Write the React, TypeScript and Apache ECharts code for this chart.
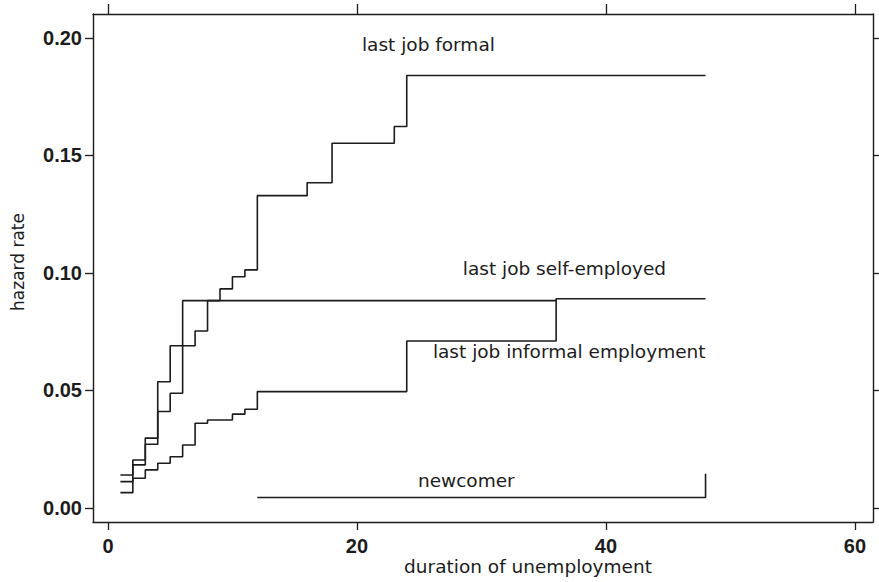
import React, { useEffect, useRef } from "react";
import * as echarts from "echarts";

// ---- data ----
const xTickValues = [0, 20, 40, 60];
const yTickValues = [0, 0.05, 0.1, 0.15, 0.2];

const formalX = [1, 2, 3, 4, 5, 7, 8, 9, 10, 11, 12, 16, 18, 23, 24, 48];
const formalY = [0.0065, 0.0204, 0.0297, 0.0537, 0.069, 0.0753, 0.0882, 0.0932, 0.0984, 0.1013, 0.1329, 0.1384, 0.1552, 0.1623, 0.184, 0.184];

const selfX = [1, 2, 3, 4, 5, 6, 36];
const selfY = [0.014, 0.0183, 0.0271, 0.041, 0.0488, 0.0882, 0.0882];

const informalX = [1, 2, 3, 4, 5, 6, 7, 8, 10, 11, 12, 24, 36, 48];
const informalY = [0.0112, 0.0126, 0.0162, 0.019, 0.0218, 0.0268, 0.036, 0.0374, 0.0399, 0.042, 0.0495, 0.071, 0.089, 0.089];

const newcomerX = [12, 48];
const newcomerY = [0.0044, 0.0145];

const labelTexts = ["last job formal", "last job self-employed", "last job informal employment", "newcomer"];
const labelX = [20.4, 28.5, 26.1, 24.9];
const labelY = [0.1974, 0.1017, 0.0664, 0.0115];

const xAxisTitle = "duration of unemployment";
const yAxisTitle = "hazard rate";

const INK = "#1c1c1c";
const LABEL_FONT = "'DejaVu Sans', sans-serif";
const TICK_FONT = "'Liberation Sans', Arial, sans-serif";

const zip = (xs: number[], ys: number[]) => xs.map((x, i) => [x, ys[i]]);

export default function App() {
  const ref = useRef<HTMLDivElement>(null);
  useEffect(() => {
    if (!ref.current) return;
    const chart = echarts.init(ref.current, null, { renderer: "svg" });
    const xMin = -1.2, xMax = 61.45, yMin = -0.006, yMax = 0.2102;
    const lineStyle = { color: INK, width: 1.6 };
    const axisLine = { show: true, onZero: false, lineStyle: { color: INK, width: 1.4 } };
    const mkSeries = (name: string, xs: number[], ys: number[]) => ({
      name,
      type: "line",
      step: "end",
      data: zip(xs, ys),
      showSymbol: false,
      symbol: "none",
      lineStyle,
      xAxisIndex: 0,
      yAxisIndex: 0,
      silent: true,
    });
    chart.setOption({
      animation: false,
      backgroundColor: "#ffffff",
      grid: { left: 93, right: 6, top: 14, bottom: 60, containLabel: false },
      xAxis: [
        {
          type: "value", min: xMin, max: xMax, position: "bottom",
          axisLine, splitLine: { show: false },
          axisTick: { show: true, inside: false, length: 8, customValues: xTickValues, lineStyle: { color: INK, width: 1.3 } },
          axisLabel: { show: true, customValues: xTickValues, margin: 14, color: INK, fontFamily: TICK_FONT, fontWeight: "bold", fontSize: 20 },
        },
        {
          type: "value", min: xMin, max: xMax, position: "top",
          axisLine, splitLine: { show: false },
          axisTick: { show: true, inside: false, length: 10, customValues: xTickValues, lineStyle: { color: INK, width: 1.3 } },
          axisLabel: { show: false },
        },
      ],
      yAxis: [
        {
          type: "value", min: yMin, max: yMax, position: "left",
          axisLine, splitLine: { show: false },
          axisTick: { show: true, inside: false, length: 8, customValues: yTickValues, lineStyle: { color: INK, width: 1.3 } },
          axisLabel: {
            show: true, customValues: yTickValues, margin: 11, color: INK, fontFamily: TICK_FONT, fontWeight: "bold", fontSize: 20,
            formatter: (v: number) => v.toFixed(2),
          },
        },
        {
          type: "value", min: yMin, max: yMax, position: "right",
          axisLine, splitLine: { show: false },
          axisTick: { show: true, inside: false, length: 6, customValues: yTickValues, lineStyle: { color: INK, width: 1.3 } },
          axisLabel: { show: false },
        },
      ],
      series: [
        mkSeries("last job formal", formalX, formalY),
        mkSeries("last job self-employed", selfX, selfY),
        mkSeries("last job informal employment", informalX, informalY),
        mkSeries("newcomer", newcomerX, newcomerY),
      ],
    });
    const texts: any[] = labelTexts.map((t, i) => {
      const p = chart.convertToPixel({ xAxisIndex: 0, yAxisIndex: 0 }, [labelX[i], labelY[i]]) as number[];
      return {
        type: "text", x: p[0], y: p[1], silent: true,
        style: { text: t, fill: INK, font: `18.5px ${LABEL_FONT}`, textAlign: "left", textVerticalAlign: "middle" },
      };
    });
    texts.push({
      type: "text", x: 528, y: 566, silent: true,
      style: { text: xAxisTitle, fill: INK, font: `18.5px ${LABEL_FONT}`, textAlign: "center", textVerticalAlign: "middle" },
    });
    texts.push({
      type: "text", x: 18, y: 262, rotation: Math.PI / 2, silent: true,
      style: { text: yAxisTitle, fill: INK, font: `17px ${LABEL_FONT}`, textAlign: "center", textVerticalAlign: "middle" },
    });
    chart.setOption({ graphic: texts });
    return () => chart.dispose();
  }, []);
  return (
    <div
      ref={ref}
      style={{ position: "fixed", left: 0, top: 0, width: 879, height: 582, background: "#fff" }}
    />
  );
}
